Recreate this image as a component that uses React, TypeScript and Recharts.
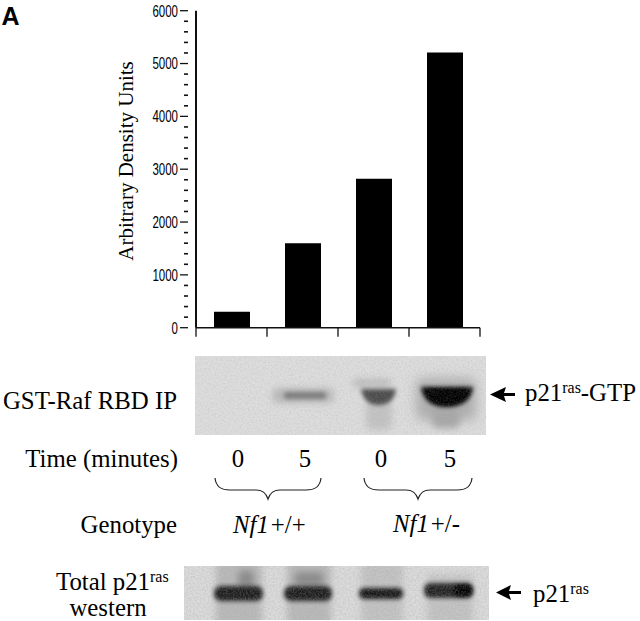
import React from 'react';
import { BarChart, Bar, XAxis, YAxis } from 'recharts';

const positions = [0.5, 1.5, 2.5, 3.5];
const densityUnits = [300, 1600, 2820, 5210];
const yTicks = [0, 200, 400, 600, 800, 1000, 1200, 1400, 1600, 1800, 2000, 2200, 2400, 2600, 2800, 3000, 3200, 3400, 3600, 3800, 4000, 4200, 4400, 4600, 4800, 5000, 5200, 5400, 5600, 5800, 6000];
const xTicks = [0, 1, 2, 3, 4];

const chartData = positions.map((pos, i) => ({ pos, units: densityUnits[i] }));

const SERIF = '"Liberation Serif", serif';
const SANS = '"Liberation Sans", sans-serif';

// major ticks every 1000 with a number, minor ones are just short marks
const YTick = ({ x, y, payload }: any) => {
  const major = payload.value % 1000 === 0;
  const label = String(payload.value);
  return (
    <g>
      <line x1={major ? x - 8 : x - 4} x2={x} y1={y} y2={y} stroke="#111" strokeWidth={major ? 1.3 : 1.6} />
      {major && (
        <text
          x={x - 10}
          y={y + 5.8}
          textAnchor="end"
          fontFamily={SANS}
          fontSize={16}
          fill="#000"
          textLength={label.length * 6.4}
          lengthAdjust="spacingAndGlyphs"
        >
          {label}
        </text>
      )}
    </g>
  );
};

const XTick = ({ x, y }: any) => (
  <line x1={x} x2={x} y1={y - 8} y2={y + 1} stroke="#111" strokeWidth={1.3} />
);

const Blob = ({ d, fill, blur, opacity = 1 }: any) => (
  <path d={d} fill={fill} opacity={opacity} filter={`url(#${blur})`} />
);

const Band = ({ x, y, w, h, fill, blur, r = 6, opacity = 1 }: any) => (
  <rect x={x} y={y} width={w} height={h} rx={r} fill={fill} opacity={opacity} filter={`url(#${blur})`} />
);

const Overlay = () => (
  <svg width={640} height={621} style={{ position: 'absolute', left: 0, top: 0 }}>
    <defs>
      <filter id="b1" x="-30%" y="-80%" width="160%" height="260%"><feGaussianBlur stdDeviation="2" /></filter>
      <filter id="b3" x="-50%" y="-100%" width="200%" height="300%"><feGaussianBlur stdDeviation="3.5" /></filter>
      <filter id="b6" x="-50%" y="-100%" width="200%" height="300%"><feGaussianBlur stdDeviation="6" /></filter>
      <filter id="grain" x="0" y="0" width="100%" height="100%">
        <feTurbulence type="fractalNoise" baseFrequency="0.6" numOctaves="2" seed="4" />
        <feColorMatrix values="0 0 0 0 0.35  0 0 0 0 0.35  0 0 0 0 0.35  0.7 0.7 0 0 -0.55" />
      </filter>
      <clipPath id="gel1"><rect x={195} y={356} width={291} height={79} /></clipPath>
      <clipPath id="gel2"><rect x={184} y={566} width={305} height={54} /></clipPath>
    </defs>

    <text x={1.5} y={25} fontFamily={SANS} fontWeight="bold" fontSize={25} fill="#000">A</text>
    <text transform="translate(133 161) rotate(-90)" textAnchor="middle" fontFamily={SERIF} fontSize={21} fill="#000">
      Arbitrary Density Units
    </text>

    {/* GST-Raf pull down blot */}
    <rect x={195} y={356} width={291} height={79} fill="#dedede" />
    <g clipPath="url(#gel1)">
      <Band x={272} y={388} w={62} h={15} fill="#bababa" blur="b3" />
      <Band x={284} y={392} w={42} h={7} fill="#7c7c7c" blur="b1" r={3} />
      <Band x={352} y={379} w={40} h={8} fill="#bcbcbc" blur="b3" />
      <Band x={366} y={400} w={26} h={30} fill="#c4c4c4" blur="b3" />
      <Blob d="M361 389 L396 389 Q394 405 378 405 Q364 405 361 389 Z" fill="#4c4c4c" blur="b1" />
      <Band x={416} y={378} w={60} h={42} fill="#a4a4a4" blur="b6" opacity={0.8} />
      <Band x={432} y={408} w={28} h={20} fill="#a8a8a8" blur="b3" />
      <Blob d="M421 387 L473 387 Q471 407 446 407 Q424 407 421 387 Z" fill="#000" blur="b1" />
      <Blob d="M428 390 L466 390 Q462 404 446 404 Q432 404 428 390 Z" fill="#000" blur="b1" />
      <rect x={195} y={356} width={291} height={79} filter="url(#grain)" opacity={0.5} />
    </g>

    {/* total ras blot */}
    <rect x={184} y={566} width={305} height={54} fill="#dcdcdc" />
    <g clipPath="url(#gel2)">
      <Band x={216} y={560} w={46} h={66} fill="#bababa" blur="b3" r={2} />
      <Band x={287} y={560} w={44} h={66} fill="#bababa" blur="b3" r={2} />
      <Band x={361} y={560} w={42} h={66} fill="#c4c4c4" blur="b3" r={2} />
      <Band x={427} y={575} w={46} h={50} fill="#c4c4c4" blur="b3" r={2} />
      <Band x={238} y={570} w={16} h={18} fill="#8a8a8a" blur="b3" />
      <Band x={294} y={572} w={30} h={14} fill="#8a8a8a" blur="b3" />
      <Band x={214} y={586} w={49} h={15} fill="#1c1c1c" blur="b1" r={7} />
      <Band x={284} y={586} w={48} h={15} fill="#1c1c1c" blur="b1" r={7} />
      <Band x={359} y={588} w={44} h={11} fill="#141414" blur="b1" r={5} />
      <Band x={424} y={583} w={49} h={15} fill="#242424" blur="b1" r={6} />
      <Band x={454} y={585} w={18} h={11} fill="#060606" blur="b1" r={5} />
      <rect x={184} y={566} width={305} height={54} filter="url(#grain)" opacity={0.7} />
    </g>

    <g fontFamily={SERIF} fontSize={24.8} fill="#000">
      <text x={177} y={409} textAnchor="end">GST-Raf RBD IP</text>
      <text x={178} y={467} textAnchor="end">Time (minutes)</text>
      <text x={177} y={533} textAnchor="end">Genotype</text>
      <text x={238} y={467} textAnchor="middle">0</text>
      <text x={305} y={467} textAnchor="middle">5</text>
      <text x={381} y={467} textAnchor="middle">0</text>
      <text x={450} y={467} textAnchor="middle">5</text>
      <text x={233} y={533}><tspan fontStyle="italic">Nf1</tspan><tspan dx={2}>+/+</tspan></text>
      <text x={393} y={532}><tspan fontStyle="italic">Nf1</tspan><tspan dx={2}>+/-</tspan></text>
      <text x={56} y={590}>Total p21<tspan fontSize={16} dy={-8}>ras</tspan></text>
      <text x={108} y={615.5} textAnchor="middle">western</text>
      <text x={525} y={401}>p21<tspan fontSize={16} dy={-8}>ras</tspan><tspan dy={8}>-GTP</tspan></text>
      <text x={533} y={602}>p21<tspan fontSize={16} dy={-8}>ras</tspan></text>
    </g>

    {/* curly braces under the time labels */}
    <g fill="none" stroke="#222" strokeWidth={1.2}>
      <path d="M215 478 C216 487 221 490 230 490 L256 490 C263 490 266 493 268 499 C270 493 273 490 280 490 L306 490 C315 490 320 487 321 478" />
      <path d="M364 478 C365 487 370 490 379 490 L406 490 C413 490 416 493 418 499 C420 493 423 490 430 490 L457 490 C466 490 471 487 472 478" />
    </g>

    {/* arrows */}
    <path d="M490 394.5 L506 387 L504 393 L515 393 L515 396 L504 396 L506 402 Z" fill="#000" />
    <path d="M496 592.5 L511 585 L509 591 L521 591 L521 594 L509 594 L511 600 Z" fill="#000" />
  </svg>
);

const App: React.FC = () => (
  <div style={{ position: 'absolute', left: 0, top: 0, width: 640, height: 621, background: '#fff', overflow: 'hidden' }}>
    <Overlay />
    <div style={{ position: 'absolute', left: 0, top: 0 }}>
      <BarChart width={640} height={345} data={chartData} margin={{ top: 10.7, right: 160, bottom: 0, left: 136 }}>
        <XAxis
          dataKey="pos"
          type="number"
          domain={[0, 4]}
          ticks={xTicks}
          interval={0}
          height={17.3}
          axisLine={{ stroke: '#111', strokeWidth: 1.5 }}
          tickLine={false}
          tickMargin={0}
          tickSize={8}
          tick={<XTick />}
        />
        <YAxis
          width={60}
          domain={[0, 6000]}
          ticks={yTicks}
          interval={0}
          axisLine={{ stroke: '#111', strokeWidth: 2 }}
          tickLine={false}
          tick={<YTick />}
        />
        <Bar dataKey="units" fill="#000" barSize={36} isAnimationActive={false} />
      </BarChart>
    </div>
  </div>
);

export default App;
